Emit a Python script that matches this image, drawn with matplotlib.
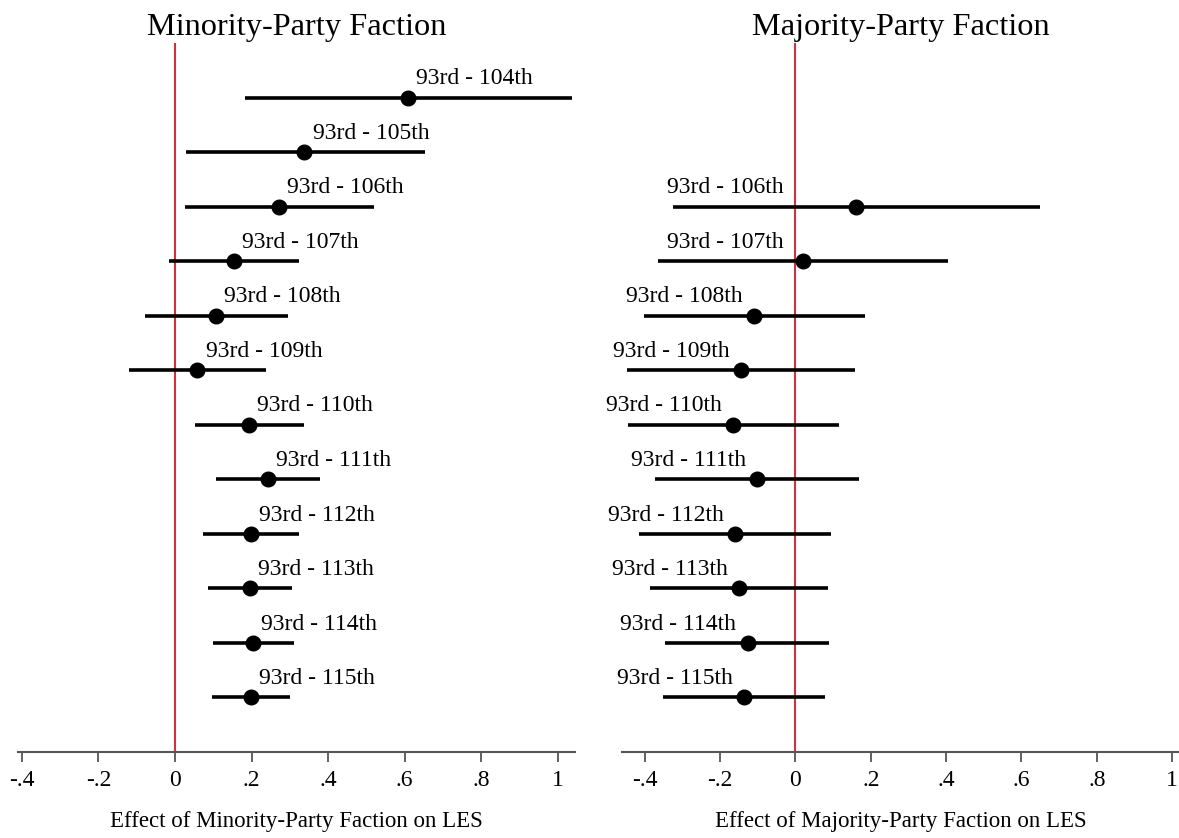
import numpy as np
import matplotlib.pyplot as plt

plt.rcParams['font.family'] = ['Liberation Serif', 'DejaVu Serif']

# minority-party faction, rows 93rd-104th ... 93rd-115th
min_labels = ["93rd - 104th", "93rd - 105th", "93rd - 106th", "93rd - 107th",
              "93rd - 108th", "93rd - 109th", "93rd - 110th", "93rd - 111th",
              "93rd - 112th", "93rd - 113th", "93rd - 114th", "93rd - 115th"]
min_est = [0.609, 0.338, 0.272, 0.153, 0.107, 0.058, 0.193, 0.242, 0.198, 0.196, 0.203, 0.199]
min_lo = [0.183, 0.028, 0.025, -0.015, -0.078, -0.119, 0.053, 0.106, 0.074, 0.086, 0.099, 0.097]
min_hi = [1.038, 0.652, 0.521, 0.323, 0.295, 0.238, 0.336, 0.379, 0.323, 0.307, 0.311, 0.301]

# majority-party faction, rows 93rd-106th ... 93rd-115th
maj_labels = ["93rd - 106th", "93rd - 107th", "93rd - 108th", "93rd - 109th",
              "93rd - 110th", "93rd - 111th", "93rd - 112th", "93rd - 113th",
              "93rd - 114th", "93rd - 115th"]
maj_est = [0.161, 0.020, -0.110, -0.144, -0.166, -0.102, -0.161, -0.149, -0.127, -0.136]
maj_lo = [-0.325, -0.365, -0.401, -0.448, -0.444, -0.373, -0.415, -0.386, -0.347, -0.350]
maj_hi = [0.648, 0.404, 0.184, 0.159, 0.116, 0.170, 0.095, 0.086, 0.090, 0.078]

ticks = [-0.4, -0.2, 0, 0.2, 0.4, 0.6, 0.8, 1]
tick_labels = ["-.4", "-.2", "0", ".2", ".4", ".6", ".8", "1"]

fig = plt.figure(figsize=(11.79, 8.38), dpi=100)
ax1 = fig.add_axes([0.0153, 0.1026, 0.4724, 0.846])
ax2 = fig.add_axes([0.5276, 0.1026, 0.4724, 0.846])

red = '#d3303f'
axcol = '#555555'


def panel(ax, labels, est, lo, hi, title, xlabel, xlim, side):
    n = len(labels)
    y = np.arange(n, 0, -1)
    ax.axvline(0, color=red, lw=1.5, zorder=1)
    ax.hlines(y, lo, hi, color='black', lw=2.6, zorder=2)
    ax.plot(est, y, 'o', color='black', ms=10.5, zorder=3)
    for i in range(n):
        if side == 'right':
            ax.annotate(labels[i], (est[i], y[i]), xytext=(6, 6), textcoords='offset points',
                        ha='left', va='bottom', fontsize=17)
        else:
            x = min(est[i] - 0.03, -0.03)
            ax.annotate(labels[i], (x, y[i]), xytext=(0, 6), textcoords='offset points',
                        ha='right', va='bottom', fontsize=17)
    ax.set_xlim(*xlim)
    ax.set_ylim(0, 13)
    ax.set_xticks(ticks)
    ax.set_xticklabels(tick_labels)
    ax.set_yticks([])
    for s in ['top', 'left', 'right']:
        ax.spines[s].set_visible(False)
    ax.spines['bottom'].set_color(axcol)
    ax.spines['bottom'].set_linewidth(1.5)
    ax.tick_params(axis='x', length=7, width=1.3, color=axcol, labelsize=17, pad=6)
    ax.set_title(title, fontsize=23.3, pad=6)
    ax.set_xlabel(xlabel, fontsize=16.5, labelpad=14)


panel(ax1, min_labels, min_est, min_lo, min_hi, "Minority-Party Faction",
      "Effect of Minority-Party Faction on LES", (-0.41, 1.045), 'right')
panel(ax2, maj_labels, maj_est, maj_lo, maj_hi, "Majority-Party Faction",
      "Effect of Majority-Party Faction on LES", (-0.46, 1.018), 'left')

plt.savefig("out.png", dpi=100)
